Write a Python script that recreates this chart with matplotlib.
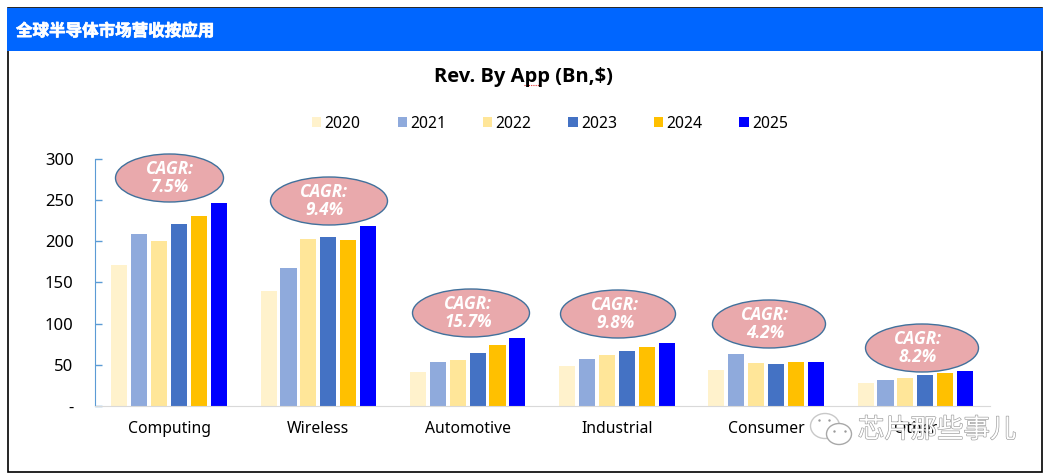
"""Global semiconductor revenue by application, bars with CAGR bubbles."""
import matplotlib

matplotlib.use("Agg")
import matplotlib.patheffects as pe
import matplotlib.pyplot as plt
import numpy as np
from matplotlib.patches import Ellipse, Rectangle

plt.rcParams["font.family"] = ["Noto Sans", "Noto Sans CJK SC", "DejaVu Sans"]

W, H = 1048, 476

apps = ["Computing", "Wireless", "Automotive", "Industrial", "Consumer", "Other"]
years = ["2020", "2021", "2022", "2023", "2024", "2025"]
rev_2020 = [171, 140, 41, 49, 44, 28]
rev_2021 = [209, 168, 53, 57, 63, 32]
rev_2022 = [201, 203, 56, 62, 52, 34]
rev_2023 = [221, 205, 64, 67, 51, 38]
rev_2024 = [231, 202, 74, 72, 53, 40]
rev_2025 = [246, 219, 83, 77, 54, 42]
cagr = ["7.5%", "9.4%", "15.7%", "9.8%", "4.2%", "8.2%"]
y_ticks = [0, 50, 100, 150, 200, 250, 300]
y_labels = ["-", "50", "100", "150", "200", "250", "300"]

colors = ["#FFF2CC", "#8FAADC", "#FFE699", "#4472C4", "#FFC000", "#0000FF"]
series = [rev_2020, rev_2021, rev_2022, rev_2023, rev_2024, rev_2025]

# bubble centres and sizes in picture pixels
bubble_x = [169.5, 329, 471, 618, 769, 922]
bubble_y = [178, 201, 313, 314, 324, 348]
bubble_w = [108, 117, 117, 115, 113, 113]
bubble_h = 48
label_shift = [0, -5, -3, -3, -4, -4]


def px_rect(x0, y0, x1, y1):
    return [x0 / W, 1 - y1 / H, (x1 - x0) / W, (y1 - y0) / H]


fig = plt.figure(figsize=(W / 100, H / 100), dpi=100, facecolor="white")

ax = fig.add_axes(px_rect(94.5, 159, 990, 406))
x = np.arange(len(apps))
step = 0.1335
for i, (vals, year, c) in enumerate(zip(series, years, colors)):
    ax.bar(x + (i - 2.5) * step, vals, width=0.108, color=c, label=year)

ax.set_xlim(-0.5, 5.5)
ax.set_ylim(0, 300)
ax.set_yticks(y_ticks, y_labels, fontsize=12)
ax.set_xticks(x, apps, fontsize=11.3)
ax.tick_params(axis="x", length=0, pad=11)
ax.tick_params(axis="y", direction="in", length=5, color="#5B9BD5", pad=15, width=1)
for side in ("top", "right"):
    ax.spines[side].set_visible(False)
ax.spines["left"].set_color("#5B9BD5")
ax.spines["bottom"].set_color("#D9D9D9")

fig.legend(
    loc="center", bbox_to_anchor=(550 / W, 1 - 123.5 / H), ncol=6, frameon=False,
    fontsize=11.3, handlelength=0.6, handleheight=0.6, handletextpad=0.2, columnspacing=2.35,
)

# overlay in picture pixels for header, frame, bubbles and watermark
ov = fig.add_axes([0, 0, 1, 1], facecolor="none")
ov.set_xlim(0, W)
ov.set_ylim(H, 0)
ov.axis("off")

ov.add_patch(Rectangle((7.5, 8), 1034.5, 464, fill=False, edgecolor="black", linewidth=1.2))
ov.add_patch(Rectangle((7, 8), 1036, 43, color="#0066FF", linewidth=0))
ov.text(16, 31, "全球半导体市场营收按应用", color="white", fontsize=11.9, fontweight="bold",
        family=["Noto Sans CJK SC", "DejaVu Sans"], va="center", ha="left",
        path_effects=[pe.withStroke(linewidth=0.5, foreground="white")])

ov.text(523.5, 77, "Rev. By App (Bn,$)", fontsize=14.5, fontweight="bold", family="Open Sans",
        ha="center", va="center")
ov.plot([524, 541], [85, 85], color="#E03030", linewidth=0.8, linestyle=(0, (1, 1)))

for bx, by, bw, label, dx in zip(bubble_x, bubble_y, bubble_w, cagr, label_shift):
    ov.add_patch(Ellipse((bx, by), bw, bubble_h, facecolor="#E9A9AC", edgecolor="#41719C", linewidth=1))
    ov.text(bx + dx, by, f"CAGR:\n{label}", color="white", fontsize=12.3, fontweight="bold",
            style="italic", family="Open Sans", ha="center", va="center", linespacing=1.05)

# wechat watermark
mark = [pe.withStroke(linewidth=0.9, foreground="#9A9A9A")]
ov.add_patch(Ellipse((825, 426), 29, 25, facecolor="white", edgecolor="#C8C8C8", linewidth=1))
ov.add_patch(Ellipse((839, 434), 25, 21, facecolor="white", edgecolor="#A8A8A8", linewidth=1))
ov.scatter([819, 829, 834, 845], [420, 420, 431, 431], s=3, color="#9A9A9A", linewidths=0)
ov.text(937, 430, "芯片那些事儿", color="white", fontsize=19, path_effects=mark,
        family=["Noto Sans CJK SC", "DejaVu Sans"], ha="center", va="center")

fig.savefig("out.png", dpi=100, facecolor="white")
